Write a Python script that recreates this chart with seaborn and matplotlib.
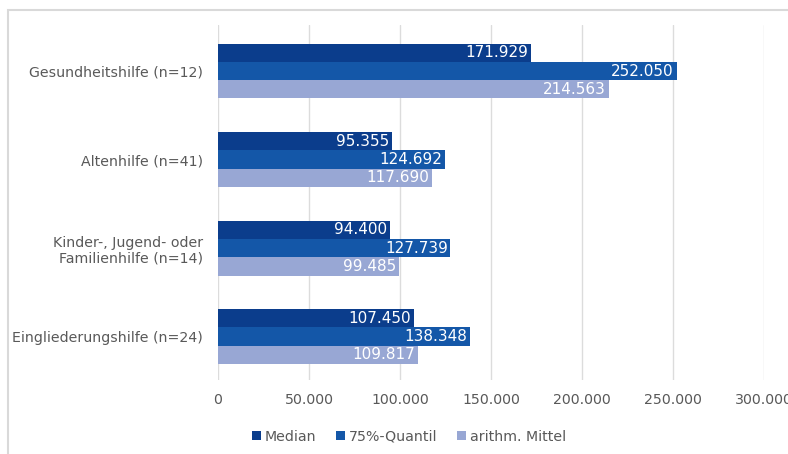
import matplotlib
matplotlib.use("Agg")
import matplotlib.pyplot as plt
import seaborn as sns
import pandas as pd
from matplotlib.patches import Rectangle

# Werte aus der Grafik
kategorien = ["Gesundheitshilfe (n=12)", "Altenhilfe (n=41)",
              "Kinder-, Jugend- oder\nFamilienhilfe (n=14)", "Eingliederungshilfe (n=24)"]
median = [171929, 95355, 94400, 107450]
quantil75 = [252050, 124692, 127739, 138348]
mittel = [214563, 117690, 99485, 109817]
serien = ["Median", "75%-Quantil", "arithm. Mittel"]
farben = ["#0b3d8c", "#1457a8", "#98a7d4"]
xticks = [0, 50000, 100000, 150000, 200000, 250000, 300000]

rows = []
for s, vals in zip(serien, [median, quantil75, mittel]):
    for k, v in zip(kategorien, vals):
        rows.append({"Kategorie": k, "Serie": s, "Wert": v})
df = pd.DataFrame(rows)

def de(v):
    return f"{v:,.0f}".replace(",", ".")

sns.set_style("white")
plt.rcParams['font.family'] = ['DejaVu Sans']

fig = plt.figure(figsize=(7.88, 4.54), dpi=100)
ax = fig.add_axes([218/788, 1-380/454, (764-218)/788, (380-25)/454])

sns.barplot(data=df, y="Kategorie", x="Wert", hue="Serie", orient="h",
            palette=farben, width=0.62, saturation=1, linewidth=0, ax=ax, legend=True)

# Werte rechtsbuendig in die Balken schreiben
for cont in ax.containers:
    txts = ax.bar_label(cont, labels=[de(b.get_width()) for b in cont],
                        padding=-2, color="white", fontsize=11)
    for t in txts:
        t.set_ha("right")

ax.set_xlim(0, 300000)
ax.set_ylim(3.49, -0.52)
ax.set_xticks(xticks)
ax.set_xticklabels([de(v) for v in xticks])
ax.xaxis.grid(True, color="#dcdcdc", linewidth=1)
ax.set_axisbelow(True)
ax.set_xlabel("")
ax.set_ylabel("")
for sp in ax.spines.values():
    sp.set_visible(False)
ax.tick_params(axis="both", length=0, colors="#595959", labelsize=10.2)
ax.tick_params(axis="x", pad=9)
ax.tick_params(axis="y", pad=11)

leg = ax.legend(loc="center", bbox_to_anchor=(0.35, -0.16), ncol=3,
                frameon=False, fontsize=10.2, handlelength=0.6, handleheight=0.6,
                columnspacing=1.4, handletextpad=0.3)
for t in leg.get_texts():
    t.set_color("#595959")

fig.patches.append(Rectangle((8/788, -0.05), 1.1, 1-10/454+0.05, transform=fig.transFigure,
                             fill=False, edgecolor="#d9d9d9", linewidth=1.5))

fig.savefig("out.png", dpi=100)
